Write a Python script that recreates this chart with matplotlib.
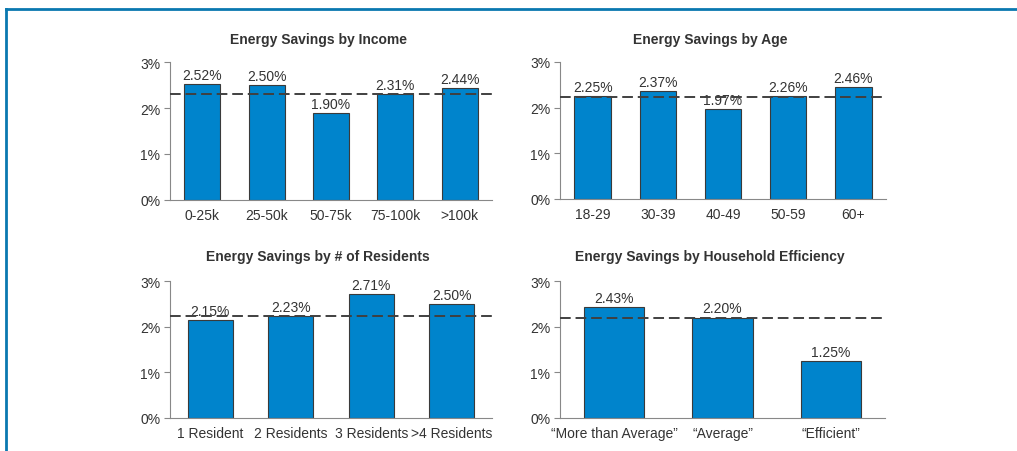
import matplotlib.pyplot as plt
from matplotlib.lines import Line2D

plt.rcParams['font.family'] = ['Liberation Sans', 'DejaVu Sans']

# chart data
income_cats = ['0-25k', '25-50k', '50-75k', '75-100k', '>100k']
income_vals = [2.52, 2.50, 1.90, 2.31, 2.44]
income_avg = 2.30

age_cats = ['18-29', '30-39', '40-49', '50-59', '60+']
age_vals = [2.25, 2.37, 1.97, 2.26, 2.46]
age_avg = 2.23

res_cats = ['1 Resident', '2 Residents', '3 Residents', '>4 Residents']
res_vals = [2.15, 2.23, 2.71, 2.50]
res_avg = 2.23

eff_cats = ['\u201cMore than Average\u201d', '\u201cAverage\u201d', '\u201cEfficient\u201d']
eff_vals = [2.43, 2.20, 1.25]
eff_avg = 2.19

titles = ['Energy Savings by Income', 'Energy Savings by Age',
          'Energy Savings by # of Residents', 'Energy Savings by Household Efficiency']

bar_color = '#0084cc'
text_color = '#333333'
W, H = 1017, 452

fig = plt.figure(figsize=(W / 100, H / 100), dpi=100)

# axes boxes in pixels: left, right, top, bottom
boxes = [(170, 492, 63, 201), (560, 886, 63, 200),
         (170, 492, 282, 419), (560, 885, 282, 419)]
# title centres in pixels (x, y)
title_pos = [(318, 40), (710, 40), (318, 257), (710, 257)]
panels = [(income_cats, income_vals, income_avg),
          (age_cats, age_vals, age_avg),
          (res_cats, res_vals, res_avg),
          (eff_cats, eff_vals, eff_avg)]

for (x0, x1, yt, yb), (cats, vals, avg), title, (tx, ty) in zip(boxes, panels, titles, title_pos):
    ax = fig.add_axes([x0 / W, 1 - yb / H, (x1 - x0) / W, (yb - yt) / H])
    xs = range(len(cats))
    bars = ax.bar(xs, vals, width=0.56, color=bar_color, edgecolor='#3a3a3a',
                  linewidth=0.8, zorder=2)
    ax.bar_label(bars, labels=['%.2f%%' % v for v in vals], padding=1.5,
                 fontsize=10, color=text_color)
    ax.axhline(avg, color='#404040', lw=1.4, linestyle=(0, (5.5, 2.5)), zorder=3)
    ax.set_xlim(-0.5, len(cats) - 0.5)
    ax.set_ylim(0, 3)
    ax.set_yticks([0, 1, 2, 3])
    ax.set_yticklabels(['0%', '1%', '2%', '3%'])
    ax.set_xticks(list(xs))
    ax.set_xticklabels(cats)
    ax.tick_params(axis='x', length=0, pad=6, labelsize=10, labelcolor=text_color)
    ax.tick_params(axis='y', length=4, width=0.8, color='#888888', pad=3,
                   labelsize=10, labelcolor=text_color)
    for s in ['top', 'right']:
        ax.spines[s].set_visible(False)
    for s in ['left', 'bottom']:
        ax.spines[s].set_color('#888888')
        ax.spines[s].set_linewidth(0.8)
    fig.text(tx / W, 1 - ty / H, title, fontsize=10, fontweight='bold',
             color=text_color, ha='center', va='center')

# blue frame around the figure block
frame = '#0a78b0'
fig.add_artist(Line2D([6 / W, 1], [1 - 9.5 / H, 1 - 9.5 / H], color=frame, lw=2,
                      transform=fig.transFigure))
fig.add_artist(Line2D([6 / W, 6 / W], [0, 1 - 9.5 / H], color=frame, lw=2,
                      transform=fig.transFigure))

fig.savefig('out.png', dpi=100)
